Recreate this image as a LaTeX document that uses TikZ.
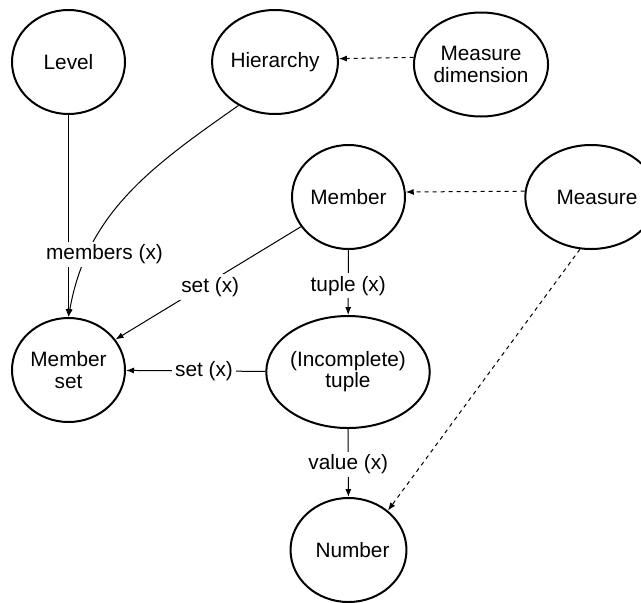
\documentclass[tikz,border=0pt]{standalone}
\usepackage{fontspec}
\setmainfont{Liberation Sans}
\usetikzlibrary{shapes.geometric,arrows.meta}

\tikzset{ent/.style={draw, ellipse, line width=1pt, minimum width=56.5pt, minimum height=52pt, inner sep=0pt,
                     align=center, font=\fontsize{10.4}{10.6}\selectfont},
         lbl/.style={fill=white, inner sep=1.5pt, font=\fontsize{10.4}{12}\selectfont},
         rel/.style={line width=0.5pt, -{Latex[length=4pt,width=3pt]}},
         dep/.style={rel, dash pattern=on 2pt off 2pt}}

\begin{document}
\begin{tikzpicture}[x=0.5pt, y=0.5pt]
  \useasboundingbox (0,0) rectangle (641,602);
  \node[ent] (level) at (68.5,540)  {Level};
  \node[ent] (hier)  at (275,540)   {Hierarchy};
  \node[ent] (mdim)  at (481,537.5) {Measure\\dimension};
  \node[ent] (memb)  at (348.5,405) {Member};
  \node[ent] (meas)  at (591,405)   {\hspace*{6pt}Measure};
  \node[ent] (mset)  at (68.5,232)  {Member\\set};
  \node[ent, minimum width=70pt, minimum height=56pt] (tup) at (348,230) {(Incomplete)\\tuple};
  \node[ent] (num)   at (348.5,52)  {\hspace*{4pt}Number};

  \draw[rel] (hier.230) to[out=215, in=80] (mset.north);
  \draw[rel] (level) -- (mset) node[lbl, pos=.69, xshift=18pt] {members (x)};
  \draw[rel] (memb.212) -- (mset.33) node[lbl, pos=.5, xshift=1pt, yshift=-2pt] {set (x)};
  \draw[rel] (tup) -- (mset) node[lbl, pos=.44] {set (x)};
  \draw[rel] (memb) -- (tup) node[lbl, pos=.55] {tuple (x)};
  \draw[rel] (tup) -- (num) node[lbl, pos=.52] {value (x)};

  \draw[dep] (mdim.174) -- (hier.3);
  \draw[dep] (meas.175) -- (memb.5);
  \draw[dep] (meas.258) -- (num.45);
\end{tikzpicture}
\end{document}
